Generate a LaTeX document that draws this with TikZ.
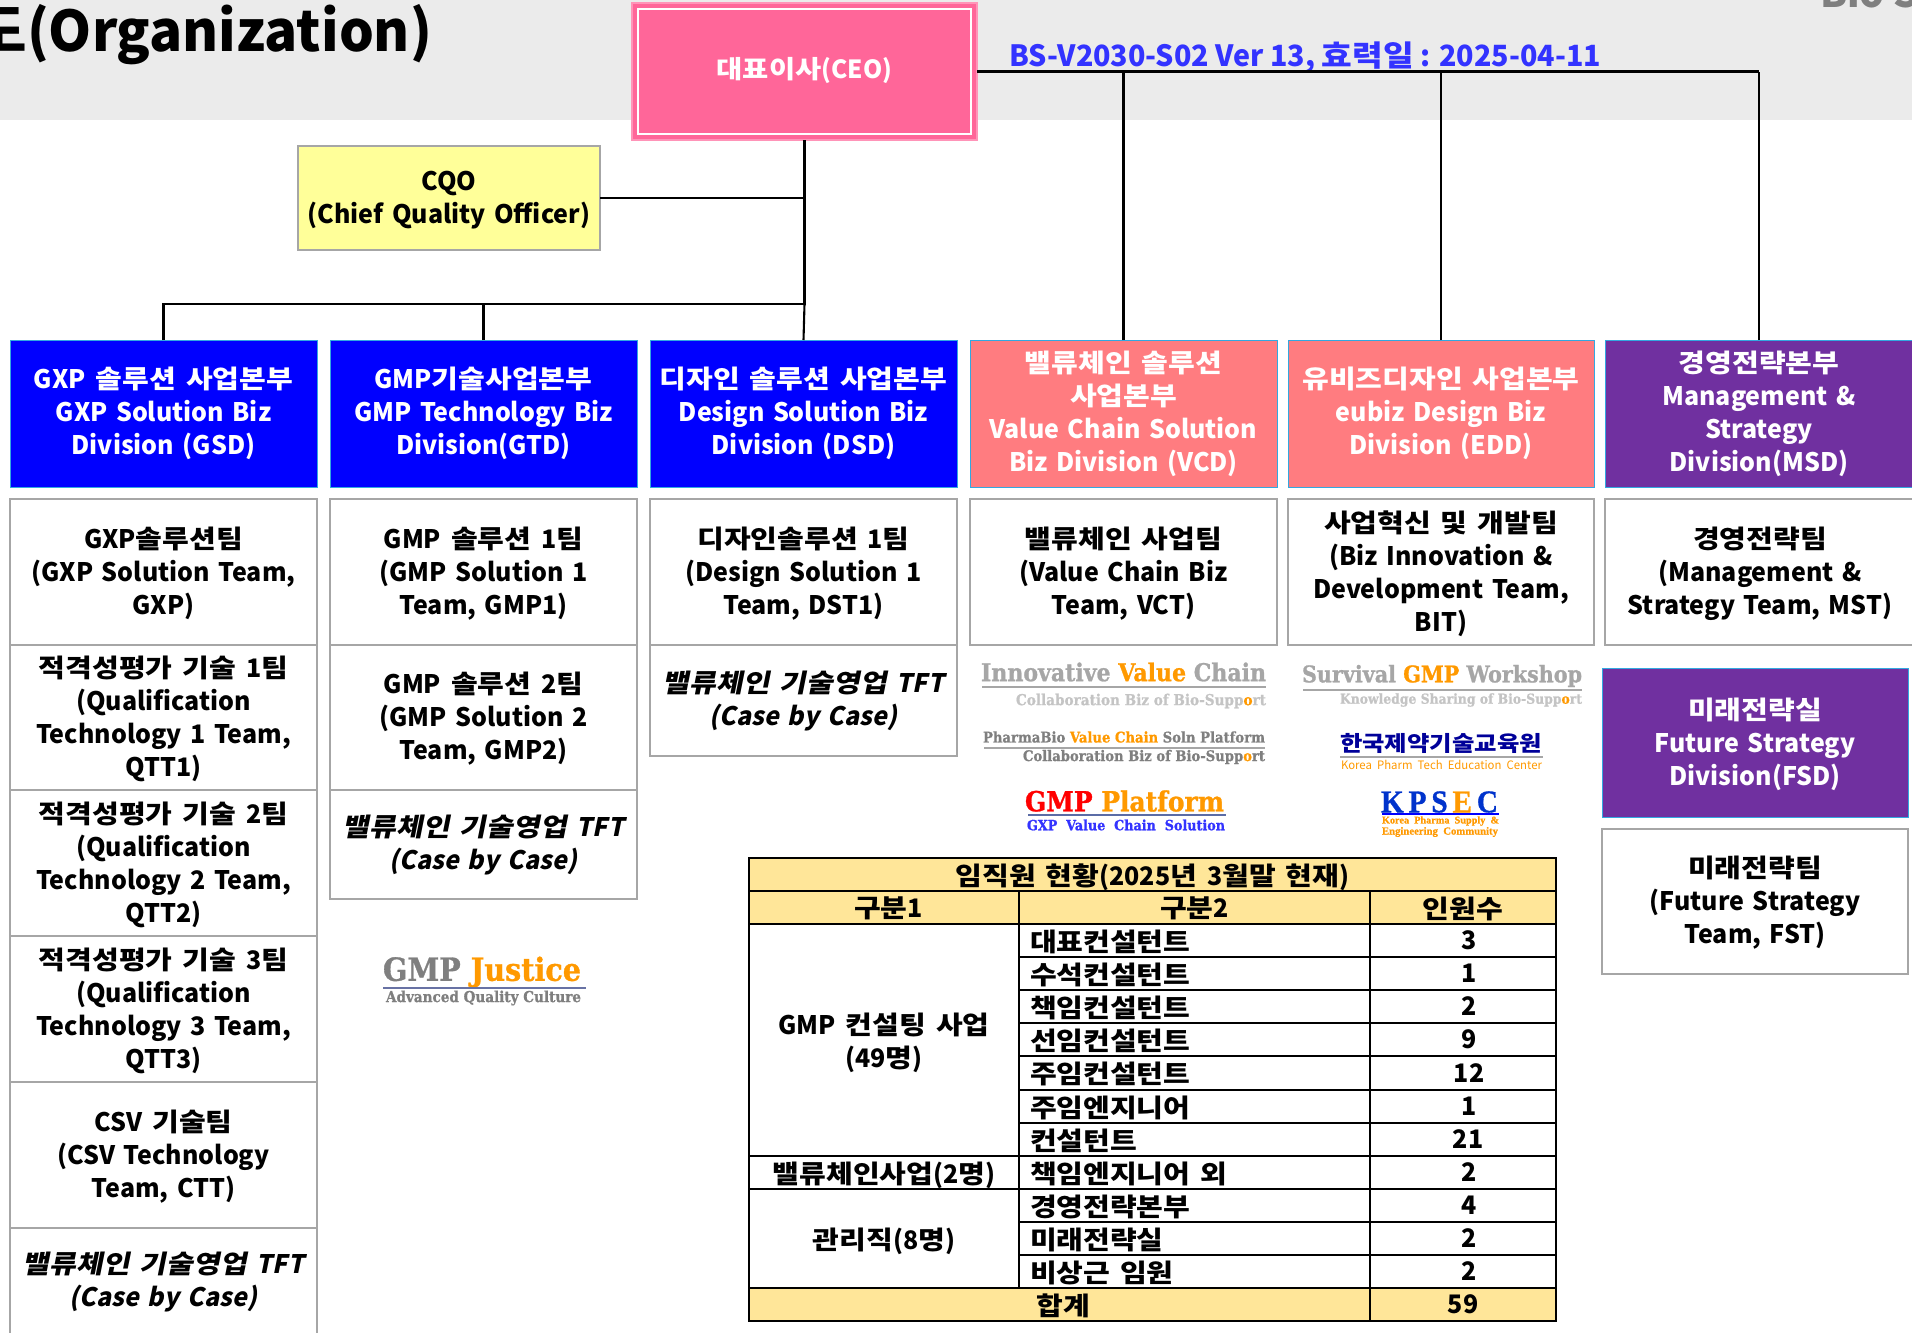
\documentclass[tikz,border=0pt]{standalone}
\usepackage{fontspec}
\usepackage{graphicx}
\setmainfont{Noto Sans CJK KR}[FakeStretch=0.98]
\newfontfamily\krit{Noto Sans CJK KR}[FakeStretch=0.98,FakeSlant=0.2]
\newfontfamily\krh{Noto Sans CJK KR}[NFSSFamily=krh,FakeStretch=1.14]
\newfontfamily\krhi{Noto Sans CJK KR}[NFSSFamily=krhi,FakeStretch=1.14,FakeSlant=0.2]
\newfontfamily\slab{DejaVu Serif}[UprightFont=* Bold,FakeStretch=0.9,FakeBold=1]
\newfontfamily\tms{Liberation Serif}[BoldFeatures={FakeBold=1}]
\makeatletter
\def\hgfam{krh}
\def\hgon{\edef\savedfam{\f@family}\fontfamily{\hgfam}\selectfont}
\def\hgoff{\fontfamily{\savedfam}\selectfont}
\makeatother
\XeTeXinterchartokenstate=1
\newXeTeXintercharclass\hgcl
\newcount\hgc \hgc="AC00
\loop \XeTeXcharclass\hgc=\hgcl \ifnum\hgc<"D7A3 \advance\hgc 1 \repeat
\XeTeXinterchartoks 0 \hgcl={\hgon}
\XeTeXinterchartoks \hgcl 0={\hgoff}
\XeTeXinterchartoks 4095 \hgcl={\hgon}
\XeTeXinterchartoks \hgcl 4095={\hgoff}
\def~{\kern 1.5pt\ }
\definecolor{band}{HTML}{EBEBEB}
\definecolor{ceoC}{HTML}{FF6699}
\definecolor{bluC}{HTML}{0000FF}
\definecolor{salC}{HTML}{FF7C80}
\definecolor{purC}{HTML}{7030A0}
\definecolor{gold}{HTML}{FFE699}
\definecolor{yelC}{HTML}{FFFF99}
\definecolor{verC}{HTML}{3333FF}
\definecolor{orgC}{HTML}{FF9900}
\definecolor{gryC}{HTML}{A6A6A6}
\definecolor{gr2C}{HTML}{C4C4C4}
\definecolor{gr3C}{HTML}{7F7F7F}
\definecolor{edgeC}{HTML}{33A8E0}
\newcommand{\bigf}{\fontsize{25.5}{33}\selectfont\bfseries}
\tikzset{
  cellbase/.style={rectangle,inner sep=0pt,outer sep=0pt,align=center,font=\bigf},
  divblue/.style={cellbase,draw=edgeC,line width=1pt,fill=bluC,text=white},
  divsal/.style={cellbase,draw=edgeC,line width=1pt,fill=salC,text=white},
  divpur/.style={cellbase,draw=edgeC,line width=1pt,fill=purC,text=white},
  team/.style={cellbase,draw=gryC,line width=1.4pt,fill=white,text=black},
  conn/.style={draw=black,line width=2.6pt},
  drop/.style={draw=black,line width=2.1pt},
  tcell/.style={cellbase,draw=black,line width=1.3pt,fill=white,text=black},
  tgold/.style={tcell,fill=gold},
  tleft/.style={tcell,align=left},
  logo/.style={inner sep=0pt,outer sep=0pt},
}
\def\vs{0pt}
% [style]{name}{x1}{y1}{x2}{y2}{text}; \vs moves the text down by half its value
\newcommand{\nbx}[7][team]{%
  \pgfmathsetmacro{\mw}{#5-#3}\pgfmathsetmacro{\mh}{#6-#4}%
  \pgfmathsetmacro{\mx}{(#3+#5)/2}\pgfmathsetmacro{\my}{(#4+#6)/2}%
  \node[#1,minimum width=\mw pt,minimum height=\mh pt,text width=\mw pt-4pt] (#2) at (\mx,\my) {#7\vspace{-\vs}};}
\newcommand{\lbx}[6]{%
  \pgfmathsetmacro{\mw}{#4-#2}\pgfmathsetmacro{\mh}{#5-#3}%
  \pgfmathsetmacro{\mx}{(#2+#4)/2}\pgfmathsetmacro{\my}{(#3+#5)/2}%
  \node[tleft,minimum width=\mw pt,minimum height=\mh pt,text width=\mw pt-22pt] (#1) at (\mx,\my) {#6\vspace{-\vs}};}
\newcommand{\fitw}[2]{\resizebox{#1pt}{!}{#2}}
\newcommand{\rgt}[1]{\hspace*{#1pt}}
\newcommand{\tft}{{\def\hgfam{krhi}\krit\bfseries 밸류체인~기술영업~TFT\\(Case by Case)}}
\begin{document}
\begin{tikzpicture}[x=1pt,y=-1pt]
\useasboundingbox (0,0) rectangle (1912,1333);
\clip (0,0) rectangle (1912,1333);
\fill[band] (0,0) rectangle (1912,120);
\node[logo,anchor=base east,font=\fontsize{56}{60}\selectfont\bfseries] (title) at (432,51) {도(Organization)};
\node[logo,anchor=base west,font=\fontsize{40}{44}\selectfont\bfseries,text=gr3C] (bio) at (1820,7) {Bio S};
\node[logo,anchor=base west,font=\fontsize{27}{30}\selectfont\bfseries,text=verC] (ver) at (1009,66) {\fitw{592}{BS-V2030-S02 Ver 13, 효력일 : 2025-04-11}};

% boxes
\def\vs{-2.4pt}
\nbx[cellbase,draw=ceoC!70!white,line width=1.5pt,fill=ceoC,text=white,font=\fontsize{25}{30}\selectfont\bfseries]{ceo}{632}{3}{977}{140}{대표이사(CEO)}
\draw[white,line width=1.5pt] ([shift={(6,6)}]ceo.north west) rectangle ([shift={(-6,-6)}]ceo.south east);
\def\vs{3.6pt}
\nbx[cellbase,draw=gryC,line width=1.2pt,fill=yelC]{cqo}{298}{146}{600}{250}{CQO\\(Chief Quality Officer)}

\def\vs{0pt}
\nbx[divblue]{gsd}{10}{340}{317}{487}{GXP~솔루션~사업본부\\GXP Solution Biz\\Division (GSD)}
\nbx[divblue]{gtd}{330}{340}{637}{487}{GMP기술사업본부\\GMP Technology Biz\\Division(GTD)}
\nbx[divblue]{dsd}{650}{340}{957}{487}{디자인~솔루션~사업본부\\Design Solution Biz\\Division (DSD)}
\nbx[divsal]{vcd}{970}{340}{1277}{487}{밸류체인~솔루션\\사업본부\\Value Chain Solution\\Biz Division (VCD)}
\nbx[divsal]{edd}{1288}{340}{1594}{487}{유비즈디자인~사업본부\\eubiz Design Biz\\Division (EDD)}
\nbx[divpur]{msd}{1605}{340}{1913}{487}{경영전략본부\\Management \&\\Strategy\\Division(MSD)}

% connectors
\coordinate (bus) at (ceo.south |- 0,304);
\draw[conn] (ceo.south) -- (bus);
\draw[drop] (bus) -- (dsd.north);
\draw[conn] (cqo.east) -- (cqo.east -| ceo.south);
\draw[conn,line cap=rect] (bus) -- (bus -| gsd.north);
\draw[drop] (gsd.north) -- (bus -| gsd.north);
\draw[drop] (gtd.north) -- (bus -| gtd.north);
\draw[conn] (ceo.east) -- (ceo.east -| msd.north);
\draw[drop] (msd.north) -- (ceo.east -| msd.north);
\draw[drop] (vcd.north) -- (ceo.east -| vcd.north);
\draw[drop] (edd.north) -- (ceo.east -| edd.north);

% column 1
\def\vs{3pt}
\nbx{t11}{10}{499}{317}{645}{GXP솔루션팀\\(GXP Solution Team,\\GXP)}
\nbx{t12}{10}{645}{317}{790}{적격성평가~기술~1팀\\(Qualification\\Technology 1 Team,\\QTT1)}
\nbx{t13}{10}{790}{317}{936}{적격성평가~기술~2팀\\(Qualification\\Technology 2 Team,\\QTT2)}
\nbx{t14}{10}{936}{317}{1082}{적격성평가~기술~3팀\\(Qualification\\Technology 3 Team,\\QTT3)}
\nbx{t15}{10}{1082}{317}{1228}{CSV~기술팀\\(CSV Technology\\Team, CTT)}
\def\vs{1pt}
\nbx{t16}{10}{1228}{317}{1336}{\tft}
% column 2
\def\vs{3pt}
\nbx{t21}{330}{499}{637}{645}{GMP~솔루션~1팀\\(GMP Solution 1\\Team, GMP1)}
\nbx{t22}{330}{645}{637}{790}{GMP~솔루션~2팀\\(GMP Solution 2\\Team, GMP2)}
\def\vs{1pt}
\nbx{t23}{330}{790}{637}{899}{\tft}
% column 3
\def\vs{3pt}
\nbx{t31}{650}{499}{957}{645}{디자인솔루션~1팀\\(Design Solution 1\\Team, DST1)}
\def\vs{1pt}
\nbx{t32}{650}{645}{957}{756}{\tft}
% column 4-6
\def\vs{3pt}
\nbx{t41}{970}{499}{1277}{645}{밸류체인~사업팀\\(Value Chain Biz\\Team, VCT)}
\nbx{t51}{1288}{499}{1594}{645}{사업혁신~및~개발팀\\(Biz Innovation \&\\Development Team,\\BIT)}
\nbx{t61}{1605}{499}{1915}{645}{경영전략팀\\(Management \&\\Strategy Team, MST)}
\nbx[divpur]{fsd}{1602}{668}{1908}{817}{미래전략실\\Future Strategy\\Division(FSD)}
\nbx{fst}{1602}{829}{1908}{974}{미래전략팀\\(Future Strategy\\Team, FST)}

% logos
\node[logo,anchor=west,text=gryC,font=\slab] (l1) at (981,672) {\fitw{285}{Innovative {\color{orgC}Value} Chain}};
\draw[gryC,line width=1.6pt] (982,687) -- (1266,687);
\node[logo,anchor=east,text=gr2C,font=\slab] (l1b) at (1266,701) {\fitw{250}{Collaboration Biz of Bio-Supp{\color{orgC}o}rt}};
\node[logo,anchor=west,text=gr3C,font=\slab] (l2) at (983,737) {\fitw{282}{PharmaBio {\color{orgC}Value Chain} Soln Platform}};
\draw[gryC,line width=1.4pt] (984,748) -- (1265,748);
\node[logo,anchor=east,text=gr3C,font=\slab] (l2b) at (1265,757) {\fitw{242}{Collaboration Biz of Bio-Supp{\color{orgC}o}rt}};
\node[logo,anchor=west,text=red,font=\slab] (l3) at (1025,801) {\fitw{199}{GMP {\color{orgC}Platform}}};
\draw[cyan!30!blue!60!gray,line width=1.6pt] (1028,815) -- (1226,815);
\node[logo,anchor=west,text=verC,font=\slab] (l3b) at (1027,825) {\fitw{198}{GXP\ \ Value\ \ Chain\ \ Solution}};
\node[logo,anchor=west,text=gryC,font=\slab] (l4) at (1302,676) {\fitw{280}{Survival {\color{orgC}GMP} Workshop}};
\draw[gryC,line width=1.4pt] (1303,690) -- (1582,690);
\node[logo,anchor=east,text=gr2C,font=\slab] (l4b) at (1582,700) {\fitw{242}{Knowledge Sharing of Bio-Supp{\color{orgC}o}rt}};
\node[logo,anchor=west,text={rgb,255:red,0;green,0;blue,153},font=\bfseries] (l5) at (1340,743) {\fitw{202}{한국제약기술교육원}};
\draw[gryC,line width=1.4pt] (1340,757) -- (1543,757);
\node[logo,anchor=west,text=orgC] (l5b) at (1341,765) {\fitw{201}{Korea\ \ Pharm\ \ Tech\ \ Education\ \ Center}};
\node[logo,anchor=west,text={rgb,255:red,0;green,51;blue,204},font=\tms\bfseries] (l6) at (1381,802) {\resizebox{117pt}{21pt}{K\,P\,S\,{\color{orgC}E}\,C}};
\draw[bluC,line width=1.4pt] (1382,814) -- (1499,814);
\node[logo,anchor=west,text=orgC,font=\tms\bfseries] (l6b) at (1382,821) {\fitw{117}{Korea\ \ Pharma\ \ Supply\ \ \&}};
\node[logo,anchor=west,text=orgC,font=\tms\bfseries] (l6c) at (1382,832) {\fitw{116}{Engineering\ \ Community}};
\node[logo,anchor=west,text=gr3C,font=\slab] (l7) at (383,972) {\fitw{198}{GMP {\color{orgC}Justice}}};
\draw[cyan!30!blue!50!gray,line width=1.4pt] (383,988) -- (586,988);
\node[logo,anchor=west,text=gr3C,font=\slab] (l7b) at (386,998) {\fitw{195}{Advanced Quality Culture}};

% table
\def\vs{8pt}
\nbx[tgold]{th}{749}{858}{1556}{891}{임직원~현황(2025년~3월말~현재)}
\nbx[tgold]{h1}{749}{891}{1019}{924}{\rgt{9}구분1}
\nbx[tgold]{h2}{1019}{891}{1370}{924}{구분2}
\nbx[tgold]{h3}{1370}{891}{1556}{924}{인원수}
\def\vs{6pt}
\nbx[tcell]{g1}{749}{924}{1019}{1156}{GMP~컨설팅~사업\\(49명)}
\nbx[tcell]{g2}{749}{1156}{1019}{1189}{밸류체인사업(2명)}
\nbx[tcell]{g3}{749}{1189}{1019}{1288}{관리직(8명)}
\lbx{r1}{1019}{924}{1370}{957}{대표컨설턴트}
\lbx{r2}{1019}{957}{1370}{990}{수석컨설턴트}
\lbx{r3}{1019}{990}{1370}{1023}{책임컨설턴트}
\lbx{r4}{1019}{1023}{1370}{1056}{선임컨설턴트}
\lbx{r5}{1019}{1056}{1370}{1090}{주임컨설턴트}
\lbx{r6}{1019}{1090}{1370}{1123}{주임엔지니어}
\lbx{r7}{1019}{1123}{1370}{1156}{컨설턴트}
\lbx{r8}{1019}{1156}{1370}{1189}{책임엔지니어~외}
\lbx{r9}{1019}{1189}{1370}{1222}{경영전략본부}
\lbx{r10}{1019}{1222}{1370}{1255}{미래전략실}
\lbx{r11}{1019}{1255}{1370}{1288}{비상근~임원}
\def\vs{8pt}
\nbx[tcell]{n1}{1370}{924}{1556}{957}{\rgt{12}3}
\nbx[tcell]{n2}{1370}{957}{1556}{990}{\rgt{12}1}
\nbx[tcell]{n3}{1370}{990}{1556}{1023}{\rgt{12}2}
\nbx[tcell]{n4}{1370}{1023}{1556}{1056}{\rgt{12}9}
\nbx[tcell]{n5}{1370}{1056}{1556}{1090}{\rgt{12}12}
\nbx[tcell]{n6}{1370}{1090}{1556}{1123}{\rgt{12}1}
\nbx[tcell]{n7}{1370}{1123}{1556}{1156}{\rgt{10}21}
\nbx[tcell]{n8}{1370}{1156}{1556}{1189}{\rgt{12}2}
\nbx[tcell]{n9}{1370}{1189}{1556}{1222}{\rgt{12}4}
\nbx[tcell]{n10}{1370}{1222}{1556}{1255}{\rgt{12}2}
\nbx[tcell]{n11}{1370}{1255}{1556}{1288}{\rgt{12}2}
\nbx[tgold]{s1}{749}{1288}{1370}{1321}{\rgt{8}합계}
\nbx[tgold]{s2}{1370}{1288}{1556}{1321}{59}
\end{tikzpicture}
\end{document}
